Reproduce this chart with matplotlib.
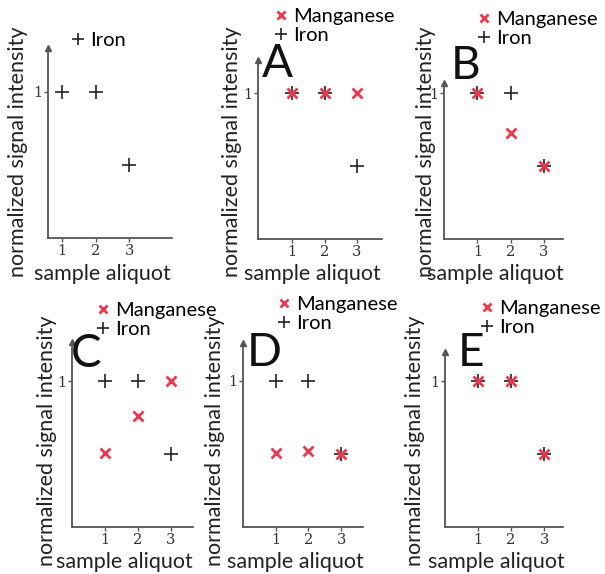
import matplotlib
matplotlib.use("Agg")
import matplotlib.pyplot as plt
from matplotlib.lines import Line2D

plt.rcParams["font.family"] = ["Lato", "DejaVu Sans"]

W, H = 605, 574

# data
aliquots = [1, 2, 3]
panel_names = ["", "A", "B", "C", "D", "E"]
iron = {
    "": [1, 1, 0.5],
    "A": [1, 1, 0.5],
    "B": [1, 1, 0.5],
    "C": [1, 1, 0.5],
    "D": [1, 1, 0.5],
    "E": [1, 1, 0.5],
}
manganese = {
    "": None,
    "A": [1, 1, 1],
    "B": [1, 0.73, 0.5],
    "C": [0.51, 0.76, 1],
    "D": [0.51, 0.52, 0.5],
    "E": [1, 1, 0.5],
}

# layout in pixels: left, right, top (arrow tip), bottom (origin)
boxes = {
    "": (48, 172, 48, 238),
    "A": (258, 382, 60, 239),
    "B": (444, 563, 83, 239),
    "C": (72, 193, 342, 527),
    "D": (243, 363, 343, 527),
    "E": (445, 563, 352, 527),
}
xlims = {"": (0.58, 4.28), "A": (-0.05, 3.77), "B": (0.0, 3.57),
         "C": (0.0, 3.67), "D": (0.0, 3.67), "E": (0.0, 3.57)}
ytops = {"": 1.30, "A": 1.23, "B": 1.07, "C": 1.27, "D": 1.26, "E": 1.2}
# legend anchor (pixels, top-left of first marker) and big letter centre
legend_pos = {"": (72, 32), "A": (275, 8), "B": (478, 11),
              "C": (97, 302), "D": (278, 296), "E": (481, 300)}
letter_pos = {"A": (277, 64), "B": (466, 66), "C": (86, 354),
              "D": (264, 353), "E": (471, 353)}
ylabel_x = {"": 18, "A": 232, "B": 426, "C": 47, "D": 215, "E": 415}

RED = "#e8394f"
AX = "#555555"

fig = plt.figure(figsize=(W / 100, H / 100), dpi=100)


def fx(px):
    return px / W


def fy(py):
    return 1 - py / H


for name in panel_names:
    l, r, t, b = boxes[name]
    ax = fig.add_axes([fx(l), fy(b), (r - l) / W, (b - t) / H])
    ax.patch.set_alpha(0)
    ax.plot(aliquots, iron[name], linestyle="none", marker="+", color="#222222",
            markersize=10, markeredgewidth=1.2)
    if manganese[name] is not None:
        ax.plot(aliquots, manganese[name], linestyle="none", marker="x", color=RED,
                markersize=7, markeredgewidth=2)
    ax.set_xlim(*xlims[name])
    ax.set_ylim(0, ytops[name])
    for s in ["top", "right"]:
        ax.spines[s].set_visible(False)
    for s in ["left", "bottom"]:
        ax.spines[s].set_color(AX)
        ax.spines[s].set_linewidth(1.3)
    ax.plot([0], [1], marker="^", color=AX, markersize=5, transform=ax.transAxes,
            clip_on=False)
    ax.set_xticks(aliquots)
    ax.set_xticklabels(["1", "2", "3"], family="DejaVu Serif", fontsize=10.5, color="#333333")
    ax.set_yticks([1])
    ax.set_yticklabels(["1"], family="DejaVu Serif", fontsize=10.5, color="#333333")
    ax.tick_params(direction="out", length=3, width=1, color=AX, pad=1)

    # axis labels
    cy = 152 if name in ("", "A", "B") else 441
    fig.text(fx(ylabel_x[name]), fy(cy), "normalized signal intensity", rotation=90,
             ha="center", va="center", fontsize=15.5, color="#222222")
    ly = 274 if name in ("", "A", "B") else 562
    fig.text(fx((l + r) / 2 - 8), fy(ly), "sample aliquot", ha="center", va="center",
             fontsize=15.5, color="#222222")

    # legend
    handles = []
    if manganese[name] is not None:
        handles.append(Line2D([], [], linestyle="none", marker="x", color=RED,
                              markersize=6, markeredgewidth=2, label="Manganese"))
    handles.append(Line2D([], [], linestyle="none", marker="+", color="#222222",
                          markersize=9, markeredgewidth=1.2, label="Iron"))
    lx, lyy = legend_pos[name]
    fig.legend(handles=handles, loc="upper left", bbox_to_anchor=(fx(lx), fy(lyy)),
               frameon=False, fontsize=14.5, handlelength=0.6, handletextpad=0.3,
               labelspacing=0.1, borderpad=0, borderaxespad=0)

    if name in letter_pos:
        px, py = letter_pos[name]
        fig.text(fx(px), fy(py), name, ha="center", va="center", fontsize=33,
                 color="#111111")

fig.savefig("out.png", dpi=100)
